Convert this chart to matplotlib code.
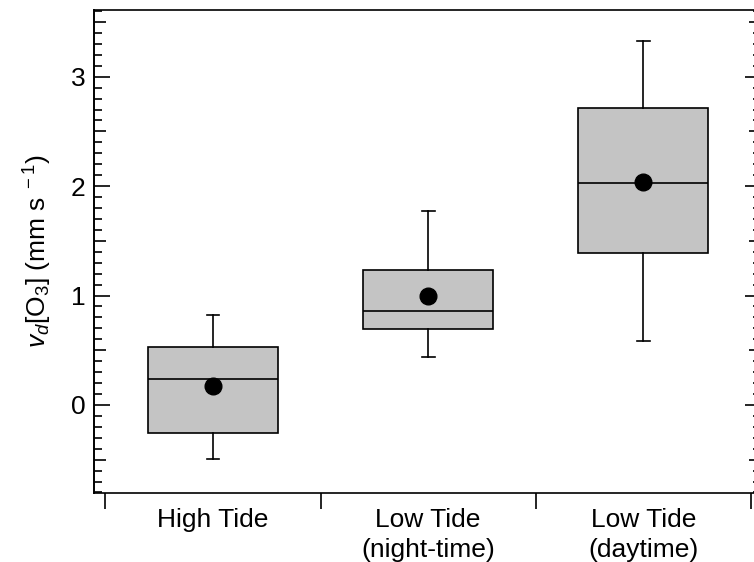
import numpy as np
import matplotlib
matplotlib.use("Agg")
import matplotlib.pyplot as plt
from matplotlib.ticker import FixedLocator, NullFormatter

plt.rcParams['font.family'] = ['Liberation Sans', 'DejaVu Sans']
plt.rcParams['mathtext.fontset'] = 'custom'
plt.rcParams['mathtext.rm'] = 'Liberation Sans'
plt.rcParams['mathtext.it'] = 'Liberation Sans:italic'

# box statistics (mm s-1)
groups = ["High Tide", "Low Tide\n(night-time)", "Low Tide\n(daytime)"]
whis_lo = [-0.49, 0.44, 0.58]
q1 = [-0.26, 0.69, 1.39]
med = [0.24, 0.86, 2.03]
q3 = [0.53, 1.23, 2.71]
whis_hi = [0.82, 1.77, 3.33]
means = [0.17, 1.00, 2.04]

stats = []
for i in range(len(groups)):
    stats.append(dict(whislo=whis_lo[i], q1=q1[i], med=med[i], q3=q3[i],
                      whishi=whis_hi[i], mean=means[i], fliers=[]))

fig = plt.figure(figsize=(7.54, 5.62), dpi=100)
ax = fig.add_axes([94 / 754, 1 - 493 / 562, (761 - 94) / 754, (493 - 10) / 562])

pos = np.arange(len(groups))
lw = 1.2
ax.bxp(stats, positions=pos, widths=0.605, capwidths=0.06, patch_artist=True,
       showmeans=True, manage_ticks=False,
       boxprops=dict(facecolor='#c4c4c4', edgecolor='black', linewidth=lw),
       medianprops=dict(color='black', linewidth=lw),
       whiskerprops=dict(color='black', linewidth=lw),
       capprops=dict(color='black', linewidth=lw),
       meanprops=dict(marker='o', markerfacecolor='black', markeredgecolor='black',
                      markersize=12))

ax.set_xlim(-0.553, 2.547)
ax.set_ylim(-0.805, 3.61)

for s in ax.spines.values():
    s.set_linewidth(lw)

# x axis: separators as ticks, names in between
ax.xaxis.set_major_locator(FixedLocator([-0.5, 0.5, 1.5, 2.5]))
ax.xaxis.set_major_formatter(NullFormatter())
ax.xaxis.set_minor_locator(FixedLocator(pos))
ax.set_xticklabels(groups, minor=True, linespacing=1.3)
ax.tick_params(axis='x', which='major', direction='out', length=11.5, width=lw)
ax.tick_params(axis='x', which='minor', length=0, pad=11, labelsize=19)

# y axis: three tick levels
ax.yaxis.set_major_locator(FixedLocator([0, 1, 2, 3]))
minors = [v / 10 for v in range(-8, 37) if v % 5 != 0]
ax.yaxis.set_minor_locator(FixedLocator(minors))
ax.tick_params(axis='y', which='major', direction='in', length=11.5, width=lw,
               labelsize=19, right=True, pad=6)
ax.tick_params(axis='y', which='minor', direction='in', length=5.5, width=lw, right=True)

for side in ['left', 'right']:
    sec = ax.secondary_yaxis(side)
    sec.yaxis.set_major_locator(FixedLocator([-0.5, 0.5, 1.5, 2.5, 3.5]))
    sec.yaxis.set_major_formatter(NullFormatter())
    sec.tick_params(direction='in', length=8.6, width=lw)
    sec.spines[side].set_linewidth(lw)

ax.set_ylabel(r'$v_d$[O$_3$] (mm s$^{\ -1}$)', fontsize=19, labelpad=12)

fig.savefig("out.png", dpi=100)
